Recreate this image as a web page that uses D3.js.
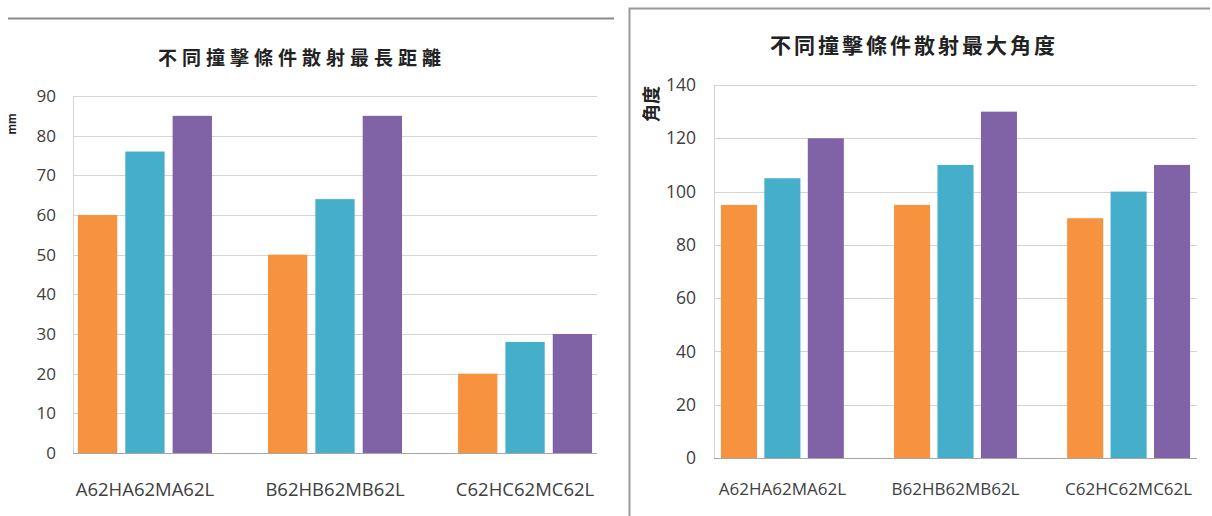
<!DOCTYPE html>
<html>
<head>
<meta charset="utf-8">
<script src="https://d3js.org/d3.v7.min.js"></script>
<style>
  body { margin: 0; background: #fff; }
  svg { display: block; }
  .tick text { font-family: "Open Sans", "Liberation Sans", sans-serif; fill: #404040; }
</style>
</head>
<body>
<svg id="chart" width="1212" height="516"></svg>
<script>
// categories and series
let groups = ["A", "B", "C"];
let groupLabels = ["A62HA62MA62L", "B62HB62MB62L", "C62HC62MC62L"];
let series = ["H", "M", "L"];
let colors = ["#F7923F", "#45AECA", "#8062A6"];

// left: longest scatter distance
let distTitle = "不同撞擊條件散射最長距離";
let distUnit = "mm";
let distTicks = [0, 10, 20, 30, 40, 50, 60, 70, 80, 90];
let distValues = [
    [60, 76, 85],
    [50, 64, 85],
    [20, 28, 30]
];

// right: largest scatter angle
let angleTitle = "不同撞擊條件散射最大角度";
let angleUnit = "角度";
let angleTicks = [0, 20, 40, 60, 80, 100, 120, 140];
let angleValues = [
    [95, 105, 120],
    [95, 110, 130],
    [90, 100, 110]
];

let svg = d3.select("#chart");

// panel frames
svg.append("line")
    .attr("x1", 8).attr("x2", 614)
    .attr("y1", 18.5).attr("y2", 18.5)
    .attr("stroke", "#8a8a8a").attr("stroke-width", 2);

svg.append("path")
    .attr("d", "M629.5,516V8.5H1210")
    .attr("fill", "none")
    .attr("stroke", "#999").attr("stroke-width", 2);

function drawChart(opt) {
    let g = svg.append("g");
    let y = d3.scaleLinear()
        .domain([0, d3.max(opt.ticks)])
        .range([opt.bottom, opt.top]);
    let x0 = d3.scaleBand()
        .domain(groups)
        .range([opt.left, opt.right])
        .paddingInner(opt.padInner)
        .paddingOuter(opt.padOuter);
    let x1 = d3.scaleBand()
        .domain(series)
        .range([0, x0.bandwidth()])
        .paddingInner(0.17);

    // grid
    g.append("g")
        .selectAll("line")
        .data(opt.ticks.slice(1))
        .enter().append("line")
        .attr("x1", opt.left).attr("x2", opt.right)
        .attr("y1", (d) => Math.round(y(d)) + 0.5)
        .attr("y2", (d) => Math.round(y(d)) + 0.5)
        .attr("stroke", "#d4d4d4");

    // left axis line
    g.append("line")
        .attr("x1", opt.left + 0.5).attr("x2", opt.left + 0.5)
        .attr("y1", opt.top).attr("y2", opt.bottom)
        .attr("stroke", "#d4d4d4");

    // bars
    g.append("g")
        .selectAll("g")
        .data(opt.values)
        .enter().append("g")
        .attr("transform", (d, i) => "translate(" + x0(groups[i]) + ",0)")
        .selectAll("rect")
        .data((d) => d)
        .enter().append("rect")
        .attr("x", (d, j) => x1(series[j]))
        .attr("width", x1.bandwidth())
        .attr("y", (d) => y(d))
        .attr("height", (d) => y(0) - y(d))
        .attr("fill", (d, j) => colors[j]);

    // baseline
    g.append("line")
        .attr("x1", opt.left).attr("x2", opt.right)
        .attr("y1", opt.bottom + 0.5).attr("y2", opt.bottom + 0.5)
        .attr("stroke", "#a6a6a6");

    // y axis labels
    let yAxis = g.append("g")
        .attr("transform", "translate(" + opt.labelRight + ",0)")
        .call(d3.axisLeft(y).tickValues(opt.ticks).tickSize(0).tickPadding(0));
    yAxis.select(".domain").remove();
    yAxis.selectAll("text").style("font-size", opt.fontSize + "px");

    // x labels
    let xAxis = g.append("g")
        .attr("transform", "translate(0," + opt.bottom + ")")
        .call(d3.axisBottom(x0).tickFormat((d, i) => groupLabels[i]).tickSize(0).tickPadding(opt.xPad));
    xAxis.select(".domain").remove();
    xAxis.selectAll("text").style("font-size", opt.xFontSize + "px");

    // title
    g.append("text")
        .attr("x", opt.titleX).attr("y", opt.titleY)
        .attr("text-anchor", "middle")
        .attr("font-family", "'Noto Sans CJK TC', sans-serif")
        .attr("font-weight", "bold")
        .attr("font-size", opt.titleSize)
        .attr("letter-spacing", opt.titleSpacing)
        .attr("fill", "#222")
        .text(opt.title);

    // unit
    g.append("text")
        .attr("transform", "translate(" + opt.unitX + "," + opt.unitY + ") rotate(-90)")
        .attr("text-anchor", "middle")
        .attr("font-family", "'Noto Sans CJK TC', sans-serif")
        .attr("font-weight", "bold")
        .attr("font-size", opt.unitSize)
        .attr("fill", "#222")
        .text(opt.unit);
}

drawChart({
    values: distValues, ticks: distTicks, title: distTitle, unit: distUnit,
    left: 73, right: 597, top: 96, bottom: 453,
    padInner: 0.295, padOuter: 0.026,
    labelRight: 56, fontSize: 17, xFontSize: 18.5, xPad: 30,
    titleX: 302, titleY: 65, titleSize: 19, titleSpacing: 5,
    unitX: 16, unitY: 124, unitSize: 11
});

drawChart({
    values: angleValues, ticks: angleTicks, title: angleTitle, unit: angleUnit,
    left: 714, right: 1197, top: 85, bottom: 458,
    padInner: 0.29, padOuter: 0.04,
    labelRight: 696, fontSize: 17.5, xFontSize: 17, xPad: 25,
    titleX: 914, titleY: 53, titleSize: 21, titleSpacing: 3,
    unitX: 658, unitY: 104, unitSize: 18
});
</script>
</body>
</html>
